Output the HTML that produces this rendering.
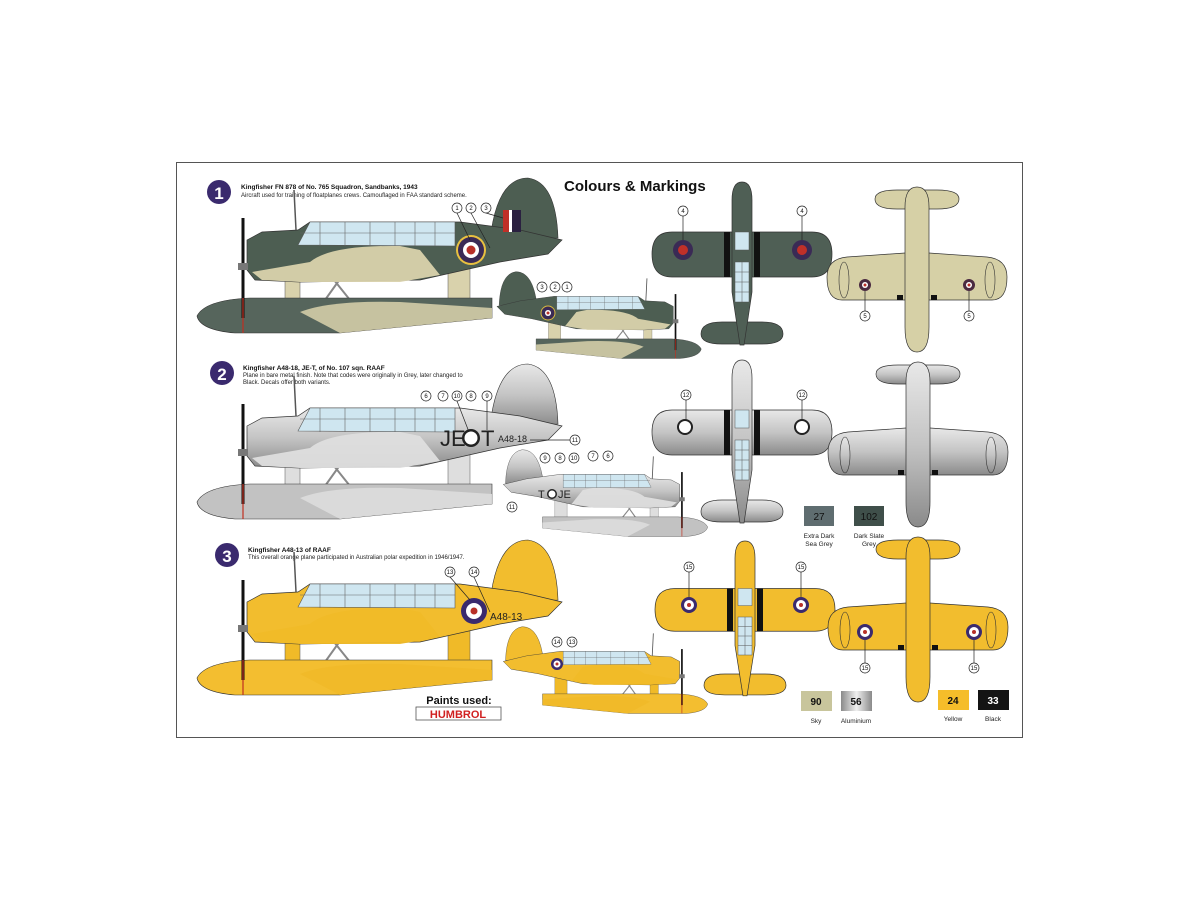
<!DOCTYPE html>
<html><head><meta charset="utf-8"><style>
html,body{margin:0;padding:0;background:#fff;width:1200px;height:900px;overflow:hidden}
svg{display:block}
text{font-family:"Liberation Sans",Arial,sans-serif}
</style></head><body>
<svg width="1200" height="900" viewBox="0 0 1200 900" xmlns="http://www.w3.org/2000/svg">
<defs>
<linearGradient id="alu" x1="0" y1="0" x2="0" y2="1"><stop offset="0" stop-color="#e8e8e8"/><stop offset="0.5" stop-color="#c4c4c4"/><stop offset="1" stop-color="#8a8a8a"/></linearGradient>
<linearGradient id="aluH" x1="0" y1="0" x2="1" y2="0"><stop offset="0" stop-color="#8a8a8a"/><stop offset="0.5" stop-color="#f0f0f0"/><stop offset="1" stop-color="#8a8a8a"/></linearGradient>
<g id="side">
  <path d="M490,240 Q497,178 528,178 Q556,182 558,238 Z" style="fill:var(--a)" stroke="#333" stroke-width="0.6"/>
  <path d="M285,278 L300,278 L300,300 L285,300 Z" style="fill:var(--c)" stroke="#555" stroke-width="0.5"/>
  <path d="M448,268 L470,268 L470,300 L448,300 Z" style="fill:var(--c)" stroke="#555" stroke-width="0.5"/>
  <path d="M330,275 L350,300 M345,272 L325,300" stroke="#888" stroke-width="2"/>
  <path d="M247,240 L262,232 L298,230 L310,222 L460,222 L520,230 L562,240 L548,254 L500,262 L420,280 L300,282 L255,280 L247,270 Z" style="fill:var(--a)" stroke="#333" stroke-width="0.7"/>
  <path d="M310,262 Q330,245 400,246 L420,250 L440,275 L400,282 L300,282 L262,280 L252,272 Z" style="fill:var(--c)" opacity="0.95"/>
  <path d="M298,245 L310,222 L455,222 L455,246 Z" fill="#cfe6f0" stroke="#555" stroke-width="0.6"/>
  <path d="M320,222 V246 M345,222 V246 M370,222 V246 M395,222 V246 M415,222 V246 M435,222 V246 M300,233 H455" stroke="#666" stroke-width="0.6"/>
  <path d="M197,316 Q205,300 250,298 L492,298 L492,318 L340,333 L235,333 Q200,330 197,316 Z" style="fill:var(--b)" stroke="#333" stroke-width="0.6"/>
  <path d="M300,312 Q330,300 400,302 L492,308 L492,318 L340,333 Z" style="fill:var(--c)" opacity="0.85"/>
  <line x1="243" y1="218" x2="243" y2="318" stroke="#111" stroke-width="3"/>
  <line x1="243" y1="298" x2="243" y2="333" stroke="#c03020" stroke-width="1.2"/>
  <rect x="238" y="263" width="10" height="7" fill="#777"/>
  <line x1="296" y1="230" x2="294" y2="190" stroke="#555" stroke-width="1.5"/>
</g>
<g id="topv">
  <path d="M-90,72 Q-90,50 -70,50 L70,50 Q90,50 90,72 Q90,95 70,95 L-70,95 Q-90,95 -90,72 Z" style="fill:var(--a)" stroke="#333" stroke-width="0.7"/>
  <path d="M-41,152 Q-41,140 -20,140 L20,140 Q41,140 41,152 Q41,162 20,162 L-20,162 Q-41,162 -41,152 Z" style="fill:var(--a)" stroke="#333" stroke-width="0.7"/>
  <path d="M-10,18 Q-10,0 0,0 Q10,0 10,18 L10,110 L2,163 L-2,163 L-10,110 Z" style="fill:var(--a)" stroke="#333" stroke-width="0.7"/>
  <rect x="-18" y="50" width="6" height="45" fill="#111"/><rect x="12" y="50" width="6" height="45" fill="#111"/>
  <rect x="-7" y="50" width="14" height="18" fill="#cfe6f0" stroke="#555" stroke-width="0.5"/>
  <rect x="-7" y="80" width="14" height="40" fill="#cfe6f0" stroke="#555" stroke-width="0.5"/>
  <path d="M-7,90 H7 M-7,100 H7 M-7,110 H7 M0,80 V120" stroke="#555" stroke-width="0.5"/>
</g>
<g id="botv">
  <path d="M-42,12 Q-42,3 -20,3 L20,3 Q42,3 42,12 Q42,22 20,22 L-20,22 Q-42,22 -42,12 Z" style="fill:var(--a)" stroke="#333" stroke-width="0.7"/>
  <path d="M-90,90 Q-90,72 -70,70 L-12,66 L12,66 L70,70 Q90,72 90,90 Q90,113 75,113 L-75,113 Q-90,113 -90,90 Z" style="fill:var(--a)" stroke="#333" stroke-width="0.7"/>
  <ellipse cx="-73" cy="93" rx="5" ry="18" style="fill:var(--a)" stroke="#333" stroke-width="0.6"/>
  <ellipse cx="73" cy="93" rx="5" ry="18" style="fill:var(--a)" stroke="#333" stroke-width="0.6"/>
  <path d="M-12,20 Q-12,0 0,0 Q12,0 12,20 L12,140 Q12,165 0,165 Q-12,165 -12,140 Z" style="fill:var(--a)" stroke="#333" stroke-width="0.7"/>
  <rect x="-20" y="108" width="6" height="5" fill="#111"/><rect x="14" y="108" width="6" height="5" fill="#111"/>
</g>
</defs>

<rect x="176.5" y="162.5" width="846" height="575" fill="#fff" stroke="#555" stroke-width="1"/>

<text x="564" y="191" font-size="15" font-weight="bold" fill="#111">Colours &amp; Markings</text>

<circle cx="219" cy="192" r="12" fill="#3a2a6e"/><text x="219" y="199" font-size="17" font-weight="bold" fill="#fff" text-anchor="middle" font-family="Liberation Serif">1</text>
<text x="241" y="189" font-size="6.5" font-weight="bold" fill="#111">Kingfisher FN 878 of No. 765 Squadron, Sandbanks, 1943</text>
<text x="241" y="197" font-size="6" fill="#222">Aircraft used for training of floatplanes crews. Camouflaged in FAA standard scheme.</text>

<circle cx="222" cy="373" r="12" fill="#3a2a6e"/><text x="222" y="380" font-size="17" font-weight="bold" fill="#fff" text-anchor="middle" font-family="Liberation Serif">2</text>
<text x="243" y="370" font-size="6.5" font-weight="bold" fill="#111">Kingfisher A48-18, JE-T, of No. 107 sqn. RAAF</text>
<text x="243" y="377" font-size="6" fill="#222">Plane in bare metal finish. Note that codes were originally in Grey, later changed to</text>
<text x="243" y="384" font-size="6" fill="#222">Black. Decals offer both variants.</text>

<circle cx="227" cy="555" r="12" fill="#3a2a6e"/><text x="227" y="562" font-size="17" font-weight="bold" fill="#fff" text-anchor="middle" font-family="Liberation Serif">3</text>
<text x="248" y="552" font-size="6.5" font-weight="bold" fill="#111">Kingfisher A48-13 of RAAF</text>
<text x="248" y="559" font-size="6" fill="#222">This overall orange plane participated in Australian polar expedition in 1946/1947.</text>

<use href="#side" style="--a:#4d5e52;--b:#56655c;--c:#d9d2ac"/>
<circle cx="471" cy="250" r="15" fill="#e8c040"/><circle cx="471" cy="250" r="13" fill="#3a2a55"/><circle cx="471" cy="250" r="8" fill="#fff"/><circle cx="471" cy="250" r="4.5" fill="#b83028"/>
<rect x="503" y="210" width="6" height="22" fill="#c03028"/><rect x="509" y="210" width="3" height="22" fill="#fff"/><rect x="512" y="210" width="9" height="22" fill="#2a2040"/>

<use href="#side" transform="translate(811.6,172) scale(-0.56,0.56)" style="--a:#4d5e52;--b:#56655c;--c:#d9d2ac"/>
<circle cx="548" cy="313" r="7" fill="#3a2a55" stroke="#d8b840" stroke-width="1"/><circle cx="548" cy="313" r="3" fill="#fff"/><circle cx="548" cy="313" r="1.5" fill="#b83028"/>

<use href="#side" transform="translate(0,186)" style="--a:url(#alu);--b:#c2c2c2;--c:#dedede"/>
<text x="440" y="446" font-size="22" fill="#222">JE</text><circle cx="471" cy="438" r="9" fill="#222"/><circle cx="471" cy="438" r="6.5" fill="#fff"/><text x="481" y="446" font-size="22" fill="#222">T</text>
<text x="498" y="442" font-size="9" fill="#222">A48-18</text>

<use href="#side" transform="translate(818,350) scale(-0.56,0.56)" style="--a:url(#alu);--b:#c2c2c2;--c:#dedede"/>
<text x="538" y="498" font-size="11" fill="#222">T</text><circle cx="552" cy="494" r="5" fill="#222"/><circle cx="552" cy="494" r="3.5" fill="#fff"/><text x="558" y="498" font-size="11" fill="#222">JE</text>

<use href="#side" transform="translate(0,362)" style="--a:#f2bd2e;--b:#f3be30;--c:#f0ba28"/>
<circle cx="474" cy="611" r="13" fill="#3a2a6e"/><circle cx="474" cy="611" r="8" fill="#fff"/><circle cx="474" cy="611" r="3.5" fill="#b83028"/>
<text x="490" y="620" font-size="10" fill="#222">A48-13</text>

<use href="#side" transform="translate(818,527) scale(-0.56,0.56)" style="--a:#f2bd2e;--b:#f3be30;--c:#f0ba28"/>
<circle cx="557" cy="664" r="6" fill="#3a2a6e"/><circle cx="557" cy="664" r="3.5" fill="#fff"/><circle cx="557" cy="664" r="1.5" fill="#b83028"/>

<use href="#topv" transform="translate(742,182)" style="--a:#4f5f55"/>
<circle cx="683" cy="250" r="10" fill="#3a2a55"/><circle cx="683" cy="250" r="5" fill="#c03028"/>
<circle cx="802" cy="250" r="10" fill="#3a2a55"/><circle cx="802" cy="250" r="5" fill="#c03028"/>
<use href="#topv" transform="translate(742,360)" style="--a:url(#alu)"/>
<circle cx="685" cy="427" r="8" fill="#222"/><circle cx="685" cy="427" r="6" fill="#fff"/>
<circle cx="802" cy="427" r="8" fill="#222"/><circle cx="802" cy="427" r="6" fill="#fff"/>
<use href="#topv" transform="translate(745,541) scale(1,0.95)" style="--a:#f2bd2e"/>
<circle cx="689" cy="605" r="8" fill="#3a2a6e"/><circle cx="689" cy="605" r="5" fill="#fff"/><circle cx="689" cy="605" r="2" fill="#b83028"/>
<circle cx="801" cy="605" r="8" fill="#3a2a6e"/><circle cx="801" cy="605" r="5" fill="#fff"/><circle cx="801" cy="605" r="2" fill="#b83028"/>

<use href="#botv" transform="translate(917,187)" style="--a:#d6d0a6"/>
<circle cx="865" cy="285" r="6" fill="#4a2a40"/><circle cx="865" cy="285" r="3" fill="#fff"/><circle cx="865" cy="285" r="1.5" fill="#b83028"/>
<circle cx="969" cy="285" r="6" fill="#4a2a40"/><circle cx="969" cy="285" r="3" fill="#fff"/><circle cx="969" cy="285" r="1.5" fill="#b83028"/>
<use href="#botv" transform="translate(918,362)" style="--a:url(#alu)"/>
<use href="#botv" transform="translate(918,537)" style="--a:#f2bd2e"/>
<circle cx="865" cy="632" r="8" fill="#3a2a6e"/><circle cx="865" cy="632" r="5" fill="#fff"/><circle cx="865" cy="632" r="2" fill="#b83028"/>
<circle cx="974" cy="632" r="8" fill="#3a2a6e"/><circle cx="974" cy="632" r="5" fill="#fff"/><circle cx="974" cy="632" r="2" fill="#b83028"/>

<g fill="#fff" stroke="#222" stroke-width="0.7" font-size="7">
<circle cx="457" cy="208" r="5"/><circle cx="471" cy="208" r="5"/><circle cx="486" cy="208" r="5"/>
<circle cx="542" cy="287" r="5"/><circle cx="555" cy="287" r="5"/><circle cx="567" cy="287" r="5"/>
<circle cx="683" cy="211" r="5"/><circle cx="802" cy="211" r="5"/>
<circle cx="865" cy="316" r="5"/><circle cx="969" cy="316" r="5"/>
<circle cx="426" cy="396" r="5"/><circle cx="443" cy="396" r="5"/><circle cx="457" cy="396" r="5"/><circle cx="471" cy="396" r="5"/><circle cx="487" cy="396" r="5"/>
<circle cx="575" cy="440" r="5"/>
<circle cx="545" cy="458" r="5"/><circle cx="560" cy="458" r="5"/><circle cx="574" cy="458" r="5"/><circle cx="593" cy="456" r="5"/><circle cx="608" cy="456" r="5"/>
<circle cx="512" cy="507" r="5"/>
<circle cx="686" cy="395" r="5"/><circle cx="802" cy="395" r="5"/>
<circle cx="450" cy="572" r="5"/><circle cx="474" cy="572" r="5"/>
<circle cx="557" cy="642" r="5"/><circle cx="572" cy="642" r="5"/>
<circle cx="689" cy="567" r="5"/><circle cx="801" cy="567" r="5"/>
<circle cx="865" cy="668" r="5"/><circle cx="974" cy="668" r="5"/>
</g>
<g stroke="#222" stroke-width="0.7">
<line x1="457" y1="213" x2="470" y2="240"/><line x1="471" y1="213" x2="490" y2="248"/><line x1="486" y1="213" x2="503" y2="218"/>
<line x1="683" y1="216" x2="683" y2="240"/><line x1="802" y1="216" x2="802" y2="240"/>
<line x1="865" y1="291" x2="865" y2="311"/><line x1="969" y1="291" x2="969" y2="311"/>
<line x1="457" y1="401" x2="469" y2="432"/><line x1="487" y1="401" x2="487" y2="430"/>
<line x1="686" y1="400" x2="686" y2="419"/><line x1="802" y1="400" x2="802" y2="419"/>
<line x1="450" y1="577" x2="470" y2="600"/><line x1="474" y1="577" x2="490" y2="612"/>
<line x1="689" y1="572" x2="689" y2="597"/><line x1="801" y1="572" x2="801" y2="597"/>
<line x1="865" y1="640" x2="865" y2="663"/><line x1="974" y1="640" x2="974" y2="663"/>
<line x1="530" y1="440" x2="570" y2="440"/>
</g>
<g font-size="6" text-anchor="middle" fill="#111">
<text x="457" y="210">1</text><text x="471" y="210">2</text><text x="486" y="210">3</text>
<text x="542" y="289">3</text><text x="555" y="289">2</text><text x="567" y="289">1</text>
<text x="683" y="213">4</text><text x="802" y="213">4</text>
<text x="865" y="318">5</text><text x="969" y="318">5</text>
<text x="426" y="398">6</text><text x="443" y="398">7</text><text x="457" y="398">10</text><text x="471" y="398">8</text><text x="487" y="398">9</text>
<text x="575" y="442">11</text>
<text x="545" y="460">9</text><text x="560" y="460">8</text><text x="574" y="460">10</text><text x="593" y="458">7</text><text x="608" y="458">6</text>
<text x="512" y="509">11</text>
<text x="686" y="397">12</text><text x="802" y="397">12</text>
<text x="450" y="574">13</text><text x="474" y="574">14</text>
<text x="557" y="644">14</text><text x="572" y="644">13</text>
<text x="689" y="569">15</text><text x="801" y="569">15</text>
<text x="865" y="670">15</text><text x="974" y="670">15</text>
</g>

<rect x="804" y="506" width="30" height="20" fill="#5f6d70"/><text x="819" y="520" font-size="10" text-anchor="middle" fill="#111">27</text>
<text x="819" y="538" font-size="6.5" text-anchor="middle" fill="#222">Extra Dark</text><text x="819" y="546" font-size="6.5" text-anchor="middle" fill="#222">Sea Grey</text>
<rect x="854" y="506" width="30" height="20" fill="#3f4f4a"/><text x="869" y="520" font-size="10" text-anchor="middle" fill="#111">102</text>
<text x="869" y="538" font-size="6.5" text-anchor="middle" fill="#222">Dark Slate</text><text x="869" y="546" font-size="6.5" text-anchor="middle" fill="#222">Grey</text>
<rect x="801" y="691" width="31" height="20" fill="#c8c59c"/><text x="816" y="705" font-size="10" font-weight="bold" text-anchor="middle" fill="#111">90</text>
<text x="816" y="723" font-size="6.5" text-anchor="middle" fill="#222">Sky</text>
<rect x="841" y="691" width="31" height="20" fill="url(#aluH)"/><text x="856" y="705" font-size="10" font-weight="bold" text-anchor="middle" fill="#111">56</text>
<text x="856" y="723" font-size="6.5" text-anchor="middle" fill="#222">Aluminium</text>
<rect x="938" y="690" width="31" height="20" fill="#f5bd2a"/><text x="953" y="704" font-size="10" font-weight="bold" text-anchor="middle" fill="#111">24</text>
<text x="953" y="721" font-size="6.5" text-anchor="middle" fill="#222">Yellow</text>
<rect x="978" y="690" width="31" height="20" fill="#141414"/><text x="993" y="704" font-size="10" font-weight="bold" text-anchor="middle" fill="#fff">33</text>
<text x="993" y="721" font-size="6.5" text-anchor="middle" fill="#222">Black</text>

<text x="459" y="704" font-size="11" font-weight="bold" text-anchor="middle" fill="#111">Paints used:</text>
<rect x="416" y="707" width="85" height="13" fill="#fff" stroke="#555" stroke-width="0.8"/>
<text x="458" y="718" font-size="11" font-weight="bold" text-anchor="middle" fill="#d02020" font-family="Liberation Serif">HUMBROL</text>
</svg>
</body></html>
